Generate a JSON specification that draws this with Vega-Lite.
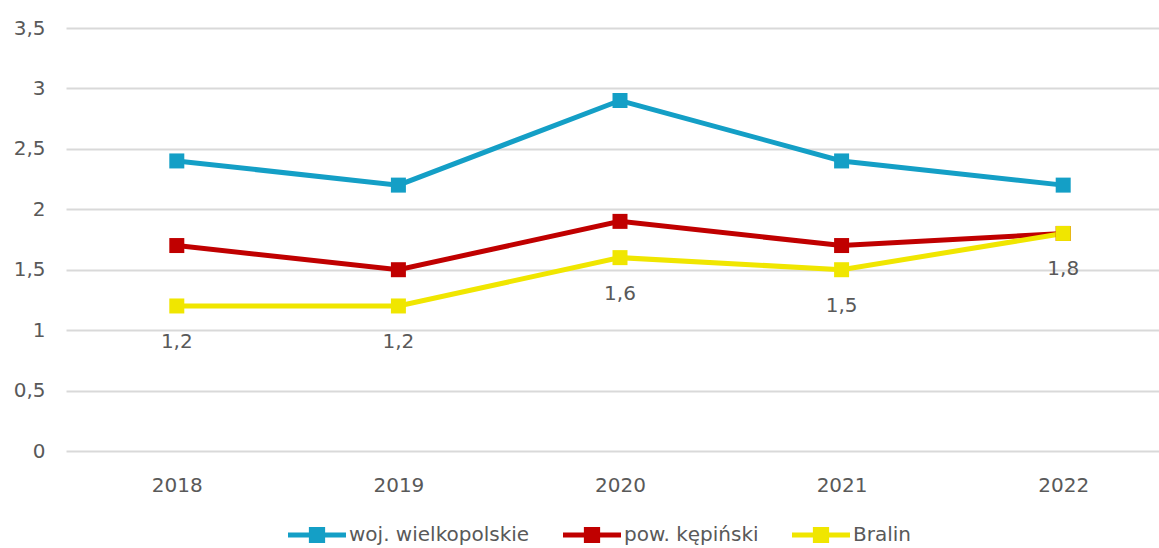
{
  "$schema": "https://vega.github.io/schema/vega-lite/v6.json",
  "width": 1108,
  "height": 423,
  "autosize": {"type": "none"},
  "padding": {"left": 66, "top": 28, "right": -15, "bottom": 97},
  "background": "white",
  "config": {
    "locale": {"number": {"decimal": ",", "thousands": " ", "grouping": [3], "currency": ["", " zł"]}},
    "view": {"stroke": null},
    "font": "DejaVu Sans",
    "axis": {"labelFont": "DejaVu Sans", "labelFontSize": 20, "labelColor": "#595959", "titleColor": "#595959"},
    "legend": {"labelFont": "DejaVu Sans"}
  },
  "data": {
    "values": [
      {"year": "2018", "series": "woj. wielkopolskie", "value": 2.4},
      {"year": "2019", "series": "woj. wielkopolskie", "value": 2.2},
      {"year": "2020", "series": "woj. wielkopolskie", "value": 2.9},
      {"year": "2021", "series": "woj. wielkopolskie", "value": 2.4},
      {"year": "2022", "series": "woj. wielkopolskie", "value": 2.2},
      {"year": "2018", "series": "pow. kępiński", "value": 1.7},
      {"year": "2019", "series": "pow. kępiński", "value": 1.5},
      {"year": "2020", "series": "pow. kępiński", "value": 1.9},
      {"year": "2021", "series": "pow. kępiński", "value": 1.7},
      {"year": "2022", "series": "pow. kępiński", "value": 1.8},
      {"year": "2018", "series": "Bralin", "value": 1.2},
      {"year": "2019", "series": "Bralin", "value": 1.2},
      {"year": "2020", "series": "Bralin", "value": 1.6},
      {"year": "2021", "series": "Bralin", "value": 1.5},
      {"year": "2022", "series": "Bralin", "value": 1.8}
    ]
  },
  "encoding": {
    "x": {
      "field": "year", "type": "ordinal", "sort": null,
      "scale": {"type": "point", "padding": 0.5},
      "axis": {"title": null, "domain": false, "ticks": false, "grid": false, "labelAngle": 0, "labelPadding": 24}
    },
    "y": {
      "field": "value", "type": "quantitative",
      "scale": {"domain": [0, 3.5], "nice": false, "zero": true},
      "axis": {"title": null, "values": [0, 0.5, 1, 1.5, 2, 2.5, 3, 3.5], "format": "~g", "domain": false, "ticks": false, "labelPadding": 21, "gridColor": "#d9d9d9", "gridWidth": 2}
    }
  },
  "layer": [
    {
      "mark": {"type": "line", "strokeWidth": 5},
      "encoding": {
        "color": {
          "field": "series", "type": "nominal",
          "scale": {"domain": ["woj. wielkopolskie", "pow. kępiński", "Bralin"], "range": ["#149FC6", "#C00000", "#F0E600"]},
          "legend": {
            "orient": "none", "legendX": 222, "legendY": 478, "direction": "horizontal", "title": null,
            "symbolType": "M-1,-0.09H1V0.09H-1Z M-0.28,-0.28H0.28V0.28H-0.28Z",
            "symbolSize": 3364, "symbolStrokeWidth": 0, "symbolOpacity": 1,
            "labelFontSize": 20, "labelColor": "#595959", "labelOffset": 3, "columnPadding": 33, "labelLimit": 0,
            "encode": {"symbols": {"update": {"fill": {"scale": "color", "field": "value"}, "stroke": {"value": "transparent"}, "opacity": {"value": 1}}}}
          }
        }
      }
    },
    {
      "mark": {"type": "point", "shape": "square", "filled": true, "size": 225, "opacity": 1},
      "encoding": {
        "color": {"field": "series", "type": "nominal"}
      }
    },
    {
      "transform": [{"filter": "datum.series === 'Bralin'"}],
      "mark": {"type": "text", "dy": 36, "fontSize": 20, "color": "#595959", "font": "DejaVu Sans"},
      "encoding": {"text": {"field": "value", "type": "quantitative", "format": ".1f"}}
    }
  ]
}
